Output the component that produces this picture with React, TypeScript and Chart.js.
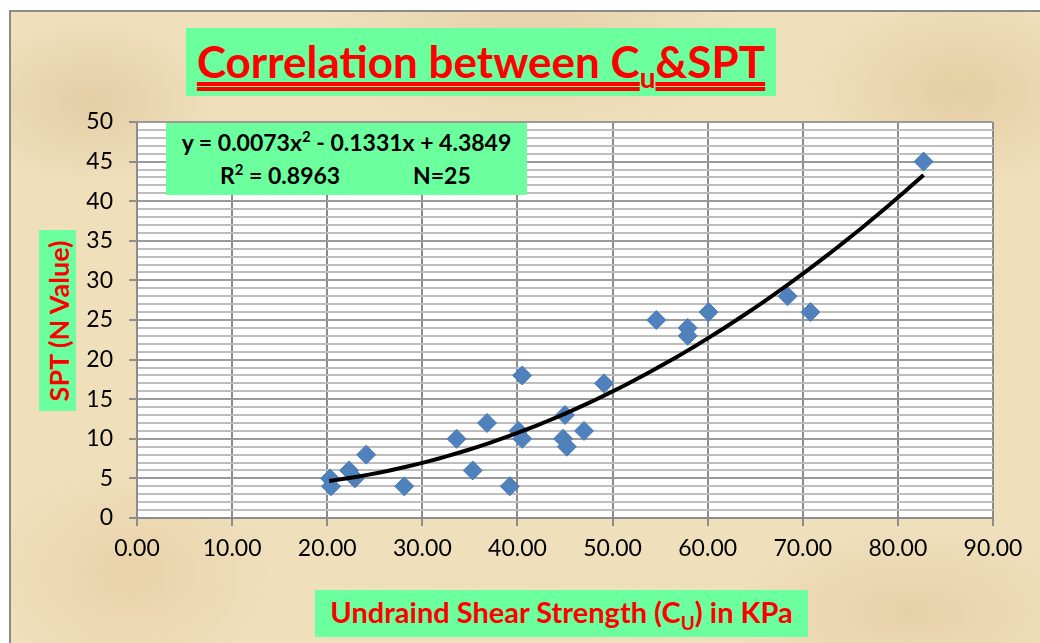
import React, { useEffect, useRef } from "react";
import { Chart, registerables } from "chart.js";

Chart.register(...registerables);

// Undrained shear strength Cu (kPa)
const cuValues = [
  20.3, 20.4, 22.3, 22.9, 24.1, 28.1, 33.6, 35.3, 36.8, 39.2, 40.1, 40.5, 40.5,
  45.0, 44.8, 45.2, 47.0, 49.1, 54.6, 57.9, 57.9, 60.1, 68.4, 70.8, 82.7,
];
// SPT N values
const sptValues = [
  5, 4, 6, 5, 8, 4, 10, 6, 12, 4, 11, 10, 18, 13, 10, 9, 11, 17, 25, 24, 23, 26,
  28, 26, 45,
];
// Polynomial trend-line coefficients shown on the chart: a x^2 + b x + c
const trendCoefficients = [0.0073, -0.1331, 4.3849];
const trendRange = [20.2, 82.7];

const xTicks = [0, 10, 20, 30, 40, 50, 60, 70, 80, 90];
const yMajorStep = 5;

const FONT = "Lato, 'Open Sans', sans-serif";

function buildTrend() {
  const [a, b, c] = trendCoefficients;
  const pts: { x: number; y: number }[] = [];
  const n = 60;
  for (let i = 0; i <= n; i++) {
    const x = trendRange[0] + ((trendRange[1] - trendRange[0]) * i) / n;
    pts.push({ x, y: a * x * x + b * x + c });
  }
  return pts;
}

export default function App() {
  const canvasRef = useRef<HTMLCanvasElement | null>(null);

  useEffect(() => {
    const canvas = canvasRef.current;
    if (!canvas) return;
    const points = cuValues.map((x, i) => ({ x, y: sptValues[i] }));
    const plotBg = {
      id: "plotBg",
      beforeDraw(chart: any) {
        const { ctx, chartArea } = chart;
        ctx.save();
        ctx.fillStyle = "#ffffff";
        ctx.fillRect(
          chartArea.left,
          chartArea.top,
          chartArea.right - chartArea.left,
          chartArea.bottom - chartArea.top
        );
        ctx.restore();
      },
    };
    const chart = new Chart(canvas, {
      type: "scatter",
      data: {
        datasets: [
          {
            label: "Trend",
            data: buildTrend(),
            showLine: true,
            borderColor: "#000000",
            borderWidth: 4,
            pointRadius: 0,
            tension: 0,
            fill: false,
          },
          {
            label: "SPT",
            data: points,
            pointStyle: "rectRot",
            pointRadius: 9.5,
            backgroundColor: "#4f81bd",
            borderColor: "#4a7cb8",
            borderWidth: 1,
          },
        ],
      },
      options: {
        animation: false,
        responsive: false,
        maintainAspectRatio: false,
        layout: { padding: { left: 0, top: 122, right: 47, bottom: 55 } },
        plugins: {
          legend: { display: false },
          tooltip: { enabled: false },
          title: { display: false },
        },
        scales: {
          x: {
            type: "linear",
            min: 0,
            max: 90,
            afterBuildTicks(scale: any) {
              scale.ticks = xTicks.map((v) => ({ value: v }));
            },
            afterFit(scale: any) {
              scale.height = 70;
            },
            ticks: {
              autoSkip: false,
              maxRotation: 0,
              padding: 9,
              color: "#000000",
              font: { family: FONT, size: 23 },
              callback: (v: any) => Number(v).toFixed(2),
            },
            grid: {
              color: "#8c8c8c",
              lineWidth: 2,
              tickLength: 8,
              tickColor: "#8c8c8c",
            },
            border: { display: true, color: "#8c8c8c", width: 2 },
          },
          y: {
            type: "linear",
            min: 0,
            max: 50,
            afterFit(scale: any) {
              scale.width = 137;
            },
            ticks: {
              stepSize: 1,
              autoSkip: false,
              padding: 16,
              color: "#000000",
              font: { family: FONT, size: 23 },
              callback: (v: any) => (Number(v) % yMajorStep === 0 ? String(v) : ""),
            },
            grid: {
              color: (ctx: any) =>
                ctx.tick && ctx.tick.value % yMajorStep === 0 ? "#9a9a9a" : "#bdbdbd",
              lineWidth: 2,
              tickLength: 8,
              tickColor: (ctx: any) =>
                ctx.tick && ctx.tick.value % yMajorStep === 0 ? "#8c8c8c" : "rgba(0,0,0,0)",
            },
            border: { display: true, color: "#8c8c8c", width: 2 },
          },
        },
      },
      plugins: [plotBg],
    });
    return () => chart.destroy();
  }, []);

  const parchment =
    "radial-gradient(ellipse 180px 120px at 80px 90px, rgba(214,186,140,0.45), transparent 70%)," +
    "radial-gradient(ellipse 220px 140px at 950px 80px, rgba(220,190,140,0.5), transparent 70%)," +
    "radial-gradient(ellipse 200px 150px at 120px 560px, rgba(228,196,150,0.5), transparent 70%)," +
    "radial-gradient(ellipse 260px 120px at 900px 600px, rgba(222,192,146,0.45), transparent 70%)," +
    "radial-gradient(ellipse 300px 160px at 520px 20px, rgba(214,186,140,0.35), transparent 70%)," +
    "#efdfbb";

  return (
    <div
      style={{
        position: "fixed",
        left: 0,
        top: 0,
        width: 1040,
        height: 643,
        background: "#ffffff",
        overflow: "hidden",
      }}
    >
      <div
        style={{
          position: "absolute",
          left: 9,
          top: 10,
          width: 1040,
          height: 640,
          borderLeft: "2px solid #8a8a8a",
          borderTop: "2px solid #8a8a8a",
          background: parchment,
        }}
      />
      <canvas
        ref={canvasRef}
        width={1040}
        height={643}
        style={{ position: "absolute", left: 0, top: 0, width: 1040, height: 643 }}
      />
      {/* Title */}
      <div
        style={{
          position: "absolute",
          left: 186,
          top: 28,
          width: 590,
          height: 68,
          background: "#6bff9d",
          display: "flex",
          alignItems: "center",
          justifyContent: "center",
          fontFamily: FONT,
          fontWeight: 700,
          fontSize: 44,
          color: "#ff0000",
          textDecoration: "underline double",
          textDecorationColor: "#ff0000",
          textUnderlineOffset: 4,
          whiteSpace: "nowrap",
        }}
      >
        <span style={{ position: "relative", top: 2 }}>
          Correlation between C<sub style={{ fontSize: 28 }}>u</sub>&amp;SPT
        </span>
      </div>
      {/* Equation box */}
      <div
        style={{
          position: "absolute",
          left: 166,
          top: 123,
          width: 361,
          height: 72,
          background: "#6bff9d",
          fontFamily: FONT,
          fontWeight: 700,
          fontSize: 23,
          color: "#000000",
          lineHeight: "33px",
          paddingTop: 3,
          boxSizing: "border-box",
          whiteSpace: "nowrap",
        }}
      >
        <div style={{ textAlign: "center" }}>
          y = 0.0073x<sup style={{ fontSize: 15, lineHeight: 0 }}>2</sup> - 0.1331x + 4.3849
        </div>
        <div style={{ position: "relative", height: 33 }}>
          <span style={{ position: "absolute", left: 54 }}>
            R<sup style={{ fontSize: 15, lineHeight: 0 }}>2</sup> = 0.8963
          </span>
          <span style={{ position: "absolute", left: 247 }}>N=25</span>
        </div>
      </div>
      {/* Y axis title */}
      <div
        style={{
          position: "absolute",
          left: 39,
          top: 230,
          width: 37,
          height: 181,
          background: "#6bff9d",
        }}
      >
        <div
          style={{
            position: "absolute",
            left: "50%",
            top: "50%",
            transform: "translate(-50%, -50%) rotate(-90deg)",
            fontFamily: FONT,
            fontWeight: 700,
            fontSize: 27,
            color: "#ff0000",
            whiteSpace: "nowrap",
          }}
        >
          SPT (N Value)
        </div>
      </div>
      {/* X axis title */}
      <div
        style={{
          position: "absolute",
          left: 315,
          top: 590,
          width: 493,
          height: 47,
          background: "#6bff9d",
          display: "flex",
          alignItems: "center",
          justifyContent: "center",
          fontFamily: FONT,
          fontWeight: 700,
          fontSize: 29,
          color: "#ff0000",
          whiteSpace: "nowrap",
        }}
      >
        <span>
          Undraind Shear Strength (C<sub style={{ fontSize: 19 }}>U</sub>) in KPa
        </span>
      </div>
    </div>
  );
}
